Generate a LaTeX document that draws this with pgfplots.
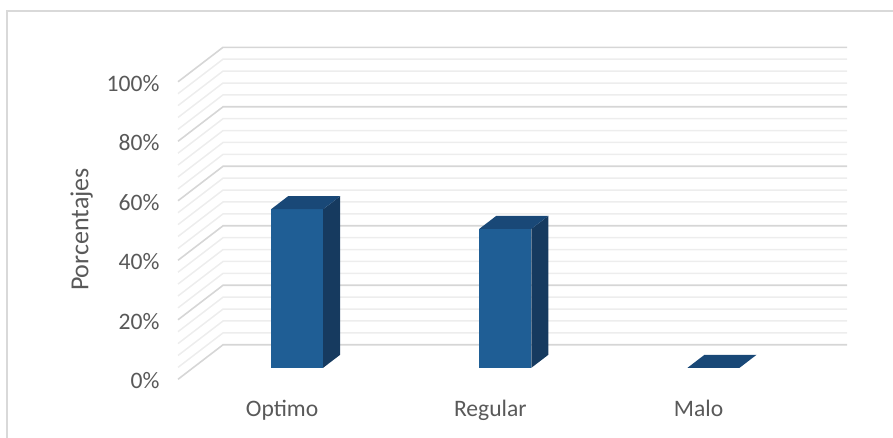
\documentclass[border=0pt]{standalone}
\usepackage{fontspec}
\setmainfont{Carlito}
\usepackage{pgfplots}
\pgfplotsset{compat=1.18}
\definecolor{txt}{HTML}{595959}
\definecolor{gmaj}{HTML}{D6D6D6}
\definecolor{gmin}{HTML}{EDEDED}
\definecolor{bord}{HTML}{D9D9D9}
\definecolor{bfront}{HTML}{1F5E95}
\definecolor{btop}{HTML}{194877}
\definecolor{bside}{HTML}{163A5F}
\begin{document}
\begin{tikzpicture}
\useasboundingbox (0,0) rectangle (893pt,438pt);
\draw[bord, line width=1.6pt] (7pt,-5pt) -- (7pt,427pt) -- (900pt,427pt);
\begin{axis}[
  at={(178pt,58.7pt)}, anchor=south west,
  scale only axis, width=669.7pt, height=332pt,
  xmin=-0.5, xmax=2.7163, ymin=0, ymax=111.6,
  axis line style={draw=none}, tick style={draw=none},
  xtick={0,1,2}, xticklabels={Optimo,Regular,Malo},
  ytick={0,20,40,60,80,100}, yticklabels={0\%,20\%,40\%,60\%,80\%,100\%},
  ticklabel style={font=\fontsize{23.6}{28}\selectfont, text=txt},
  xticklabel style={yshift=-17pt},
  yticklabel style={xshift=-15pt, yshift=-1.5pt},
  ylabel={Porcentajes},
  every axis y label/.style={at={(axis description cs:-0.144,0.451)}, rotate=90, anchor=center, font=\fontsize{26}{31}\selectfont, text=txt},
  clip=false,
]
% minor gridlines (back wall + left wall)
\pgfplotsinvokeforeach{4,8,12,16,24,28,32,36,44,48,52,56,64,68,72,76,84,88,92,96}{
  \draw[gmin, line width=1.5pt] (axis cs:-0.5,#1) -- ++(45pt,34.5pt) -- ++(624pt,0pt);
}
% major gridlines
\pgfplotsinvokeforeach{0,20,40,60,80,100}{
  \draw[gmaj, line width=1.6pt] (axis cs:-0.5,#1) -- ++(45pt,34.5pt) -- ++(624pt,0pt);
}
% Optimo 53.3
\addplot[fill=bfront, draw=none] coordinates {(-0.0529,3.87) (0.1971,3.87) (0.1971,57.17) (-0.0529,57.17)};
\addplot[fill=bside, draw=none] coordinates {(0.1971,3.87) (0.1971,57.17) (0.2788,61.55) (0.2788,8.25)};
\addplot[fill=btop, draw=none] coordinates {(-0.0529,57.17) (0.1971,57.17) (0.2788,61.55) (0.0288,61.55)};
% Regular 46.7
\addplot[fill=bfront, draw=none] coordinates {(0.9471,3.87) (1.1971,3.87) (1.1971,50.57) (0.9471,50.57)};
\addplot[fill=bside, draw=none] coordinates {(1.1971,3.87) (1.1971,50.57) (1.2788,54.95) (1.2788,8.25)};
\addplot[fill=btop, draw=none] coordinates {(0.9471,50.57) (1.1971,50.57) (1.2788,54.95) (1.0288,54.95)};
% Malo 0
\addplot[fill=btop, draw=none] coordinates {(1.9471,3.87) (2.1971,3.87) (2.2788,8.25) (2.0288,8.25)};
\end{axis}
\end{tikzpicture}
\end{document}
